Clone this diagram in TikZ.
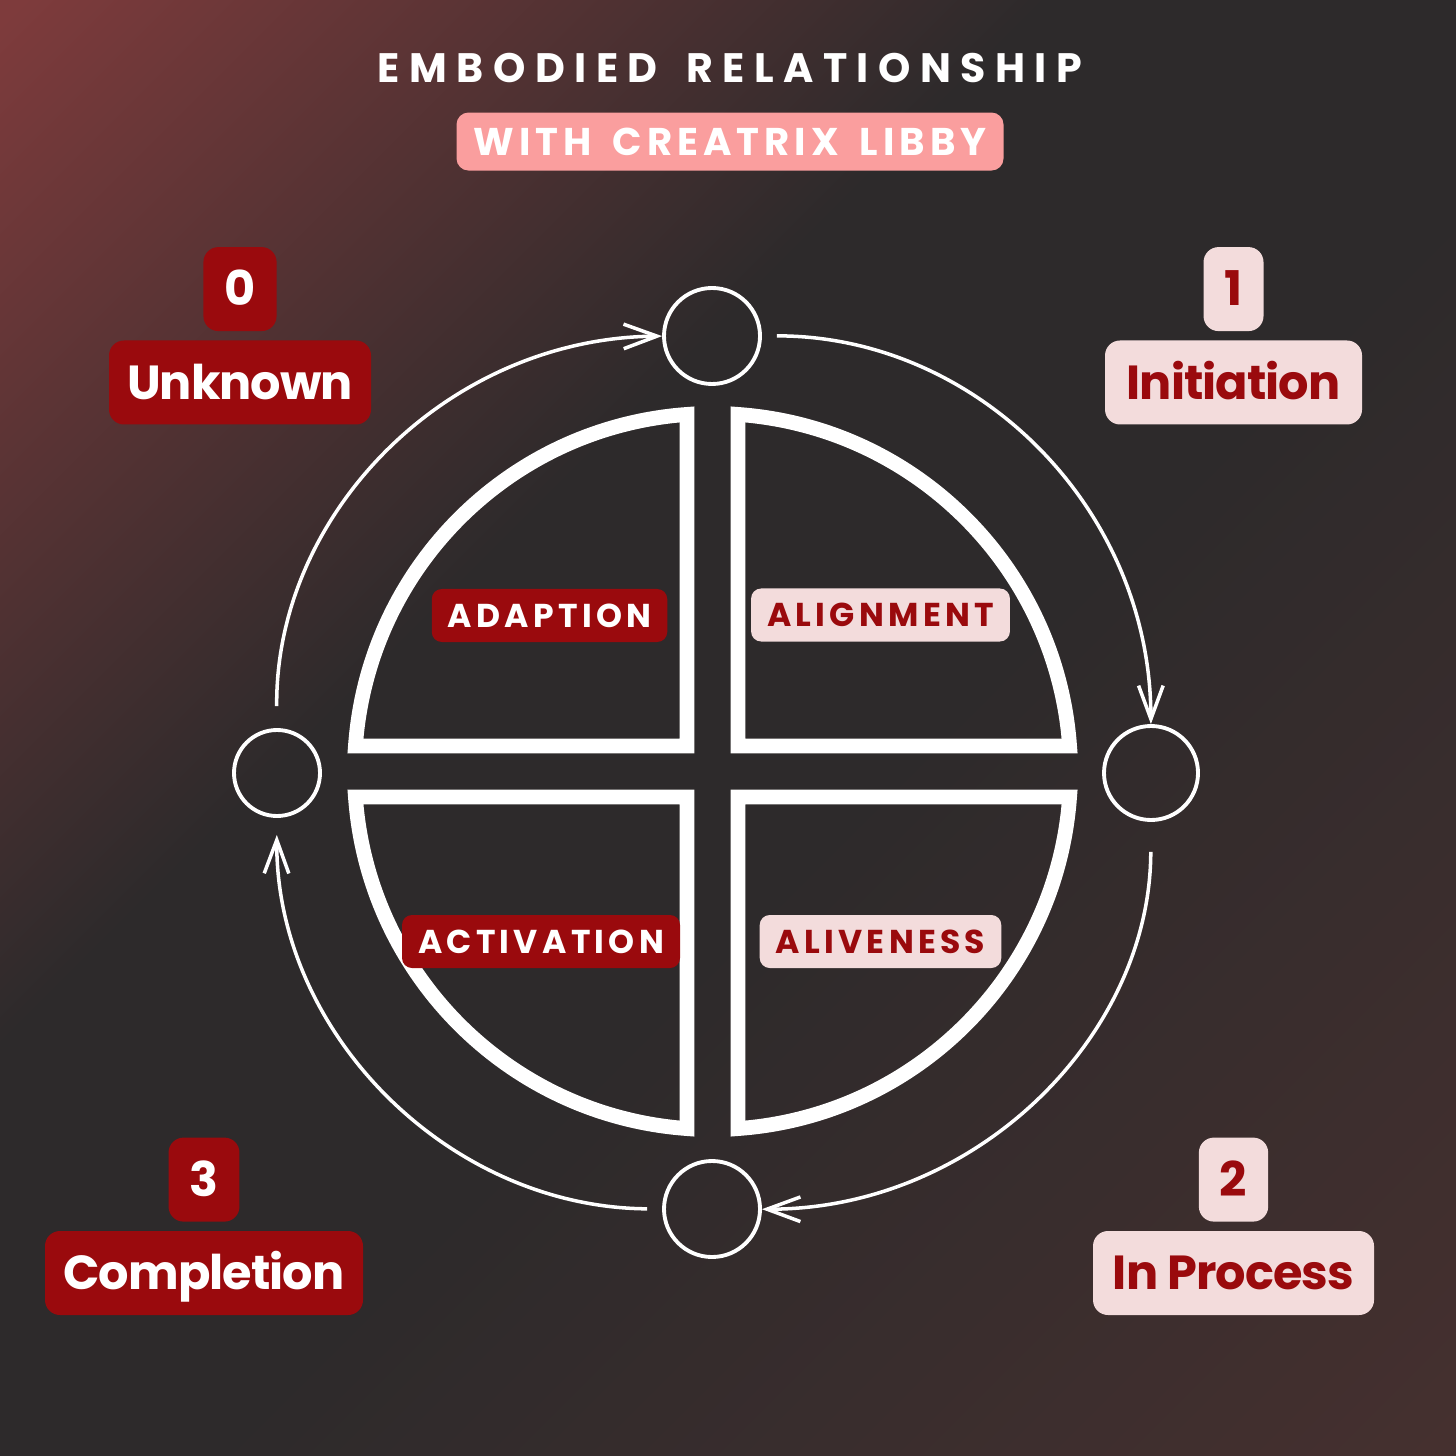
\documentclass[tikz,border=0pt]{standalone}
\usepackage{fontspec}
\setmainfont{Poppins}
\usepackage{xcolor}
\usepackage{tikz}
\usetikzlibrary{arrows.meta,positioning,calc}

\definecolor{deepred}{HTML}{9A0A0D}
\definecolor{blush}{HTML}{F3DCDC}
\definecolor{salmon}{HTML}{FA9E9E}
\definecolor{bgdark}{HTML}{2D2A2B}
\definecolor{bgred}{HTML}{7E3B3C}
\definecolor{bgwarm}{HTML}{45302F}

\pgfdeclareverticalshading{backdrop}{100bp}{color(0bp)=(bgwarm); color(15bp)=(bgwarm); color(45bp)=(bgdark); color(60bp)=(bgdark); color(85bp)=(bgred); color(100bp)=(bgred)}

\begin{document}
\begin{tikzpicture}[
	stagebox/.style={rounded corners=0.15cm, minimum height=0.84cm, inner xsep=0.18cm, inner ysep=0pt, text height=9.6pt, text depth=0pt, font=\bfseries\fontsize{13.6}{13.6}\selectfont\addfontfeature{LetterSpace=-2}},
	darkbox/.style={stagebox, fill=deepred, text=white},
	lightbox/.style={stagebox, fill=blush, text=deepred},
	tagbox/.style={rounded corners=0.1cm, minimum height=0.53cm, inner xsep=0.16cm, inner ysep=0pt, text height=6.6pt, text depth=0pt, font=\bfseries\fontsize{9.4}{9.4}\selectfont\addfontfeature{LetterSpace=13}},
	ring/.style={circle, draw=white, line width=1.1pt, inner sep=0pt},
	flow/.style={draw=white, line width=1pt, -{Straight Barb[length=9.5pt,width=7pt]}},
	quad/.style={draw=white, line width=4.2pt, line join=miter}
	]
		\useasboundingbox (0,0) rectangle (14.56,-14.56);
		\shade[shading=backdrop, shading angle=45] (0,0) rectangle (14.56,-14.56);

		\begin{scope}[shift={(7.125,-7.715)}]
			\foreach \a in {0,90,180,270} {
			\draw[quad, rotate=\a] (0.255,0.255) -- (4.08:3.58) arc[start angle=4.08, end angle=85.92, radius=3.58] -- cycle;
			}
		\end{scope}

		\node[ring, minimum size=0.96cm] (dotN) at (7.12,-3.36) {};
		\node[ring, minimum size=0.94cm] (dotE) at (11.51,-7.73) {};
		\node[ring, minimum size=0.96cm] (dotS) at (7.12,-12.09) {};
		\node[ring, minimum size=0.86cm] (dotW) at (2.77,-7.73) {};

		\draw[flow, shorten <=0.15cm] (dotN) to[bend left=45] (dotE);
		\draw[flow, shorten <=0.3cm] (dotE) to[bend left=45] (dotS);
		\draw[flow, shorten <=0.15cm, shorten >=0.17cm] (dotS) to[bend left=45] (dotW);
		\draw[flow, shorten <=0.22cm] (dotW) to[bend left=45] (dotN);

		\node[tagbox, fill=deepred, text=white] (adaption) at (5.495,-6.155) {ADAPTION};
		\node[tagbox, fill=blush, text=deepred] (alignment) at (8.805,-6.15) {ALIGNMENT};
		\node[tagbox, fill=deepred, text=white] (activation) at (5.41,-9.415) {ACTIVATION};
		\node[tagbox, fill=blush, text=deepred] (aliveness) at (8.805,-9.415) {ALIVENESS};

		\node[darkbox, minimum width=2.6cm] (unknown) at (2.40,-3.825) {Unknown};
		\node[darkbox, above=0.08cm of unknown, inner xsep=0.21cm] (zero) {0};
		\node[lightbox, minimum width=2.57cm] (initiation) at (12.335,-3.825) {Initiation};
		\node[lightbox, above=0.08cm of initiation, inner xsep=0.21cm] (one) {1};
		\node[lightbox, minimum width=2.81cm] (inprocess) at (12.335,-12.73) {In Process};
		\node[lightbox, above=0.08cm of inprocess, inner xsep=0.21cm] (two) {2};
		\node[darkbox, minimum width=3.18cm] (completion) at (2.04,-12.73) {Completion};
		\node[darkbox, above=0.08cm of completion, inner xsep=0.21cm] (three) {3};

		\node[text=white, text height=8.2pt, text depth=0pt, font=\bfseries\fontsize{11.7}{11.7}\selectfont\addfontfeature{LetterSpace=23}] (title) at (7.30,-0.68) {EMBODIED\hspace{0.25em} RELATIONSHIP};
		\node[fill=salmon, text=white, rounded corners=0.12cm, minimum height=0.58cm, minimum width=5.47cm, inner xsep=0.15cm, inner ysep=0pt, text height=7.7pt, text depth=0pt, font=\bfseries\fontsize{11}{11}\selectfont\addfontfeature{LetterSpace=13}, below=0.17cm of title] (host) {WITH\hspace{0.2em} CREATRIX\hspace{0.2em} LIBBY};
	\end{tikzpicture}
\end{document}
